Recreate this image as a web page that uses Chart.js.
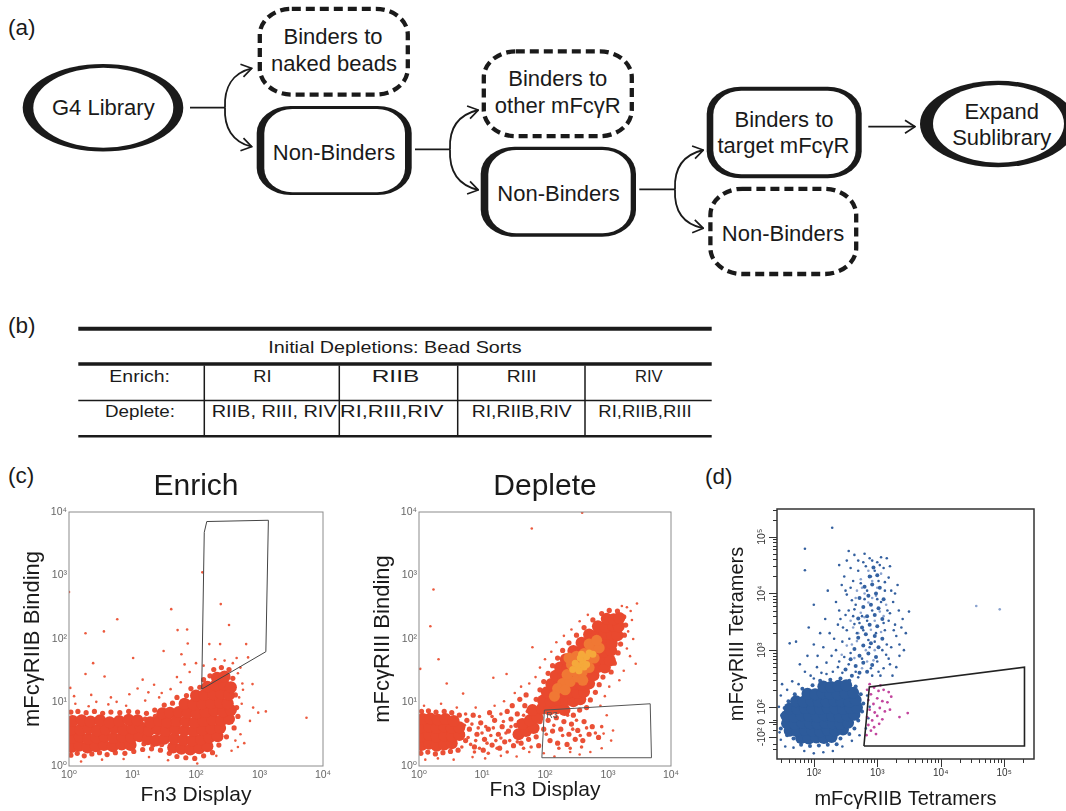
<!DOCTYPE html>
<html><head><meta charset="utf-8">
<script src="https://cdn.jsdelivr.net/npm/chart.js@4.4.1/dist/chart.umd.min.js"></script>
<style>
html,body{margin:0;padding:0;background:#fff;}
body{width:1066px;height:811px;position:relative;overflow:hidden;font-family:"Liberation Sans",Arial,Helvetica,sans-serif;color:#1a1a1a;}
#art{position:absolute;left:0;top:0;}
.cv{position:absolute;}
</style></head><body>
<svg id="art" width="1066" height="811" font-family="'Liberation Sans', Arial, Helvetica, sans-serif">
<defs>
<marker id="ah" viewBox="0 0 12 16" refX="11" refY="8" markerWidth="12" markerHeight="16" markerUnits="userSpaceOnUse" orient="auto">
<path d="M1,1.5 L11,8 L1,14.5" fill="none" stroke="#1a1a1a" stroke-width="1.7"/></marker>
</defs>
<g fill="#1a1a1a" font-size="22.5">
<text x="8" y="34.5">(a)</text><text x="8" y="333">(b)</text><text x="8" y="483">(c)</text><text x="705" y="484">(d)</text>
</g>
<!-- flow chart -->
<ellipse cx="103" cy="107.8" rx="80.3" ry="43.8" fill="#1a1a1a"/>
<ellipse cx="103.3" cy="107.7" rx="70" ry="40" fill="#fff"/>
<ellipse cx="998" cy="124" rx="78" ry="43.3" fill="#1a1a1a"/>
<ellipse cx="998.5" cy="123.8" rx="65.5" ry="38.9" fill="#fff"/>
<rect x="256.7" y="106" width="155" height="89" rx="34" ry="27" fill="#1a1a1a"/>
<rect x="264.3" y="109" width="140.7" height="83.3" rx="28" ry="24" fill="#fff"/>
<rect x="480.7" y="146.7" width="155.3" height="90" rx="34" ry="27" fill="#1a1a1a"/>
<rect x="488.3" y="150" width="142.4" height="83.3" rx="28" ry="24" fill="#fff"/>
<rect x="706.7" y="86.7" width="155" height="91.6" rx="34" ry="27" fill="#1a1a1a"/>
<rect x="713.3" y="90.7" width="142.4" height="83.6" rx="28" ry="24" fill="#fff"/>
<g fill="none" stroke="#1a1a1a" stroke-width="4.3" stroke-dasharray="9 5">
<rect x="259.8" y="8.8" width="148" height="85.8" rx="32" ry="26"/>
<rect x="483.8" y="51.4" width="148" height="84.8" rx="32" ry="26"/>
<rect x="710.4" y="188.8" width="145.8" height="85.2" rx="32" ry="26"/>
</g>
<g fill="none" stroke="#1a1a1a" stroke-width="1.8">
<path d="M190,107.7 H225"/>
<path d="M225,107.7 C224,88 232,73 251.7,68.3" marker-end="url(#ah)"/>
<path d="M225,107.7 C224,127 232,142 251.7,146.7" marker-end="url(#ah)"/>
<path d="M415,149.3 H450"/>
<path d="M450,149.3 C449,129 457,115 478.3,110" marker-end="url(#ah)"/>
<path d="M450,149.3 C449,170 457,185 478.3,190" marker-end="url(#ah)"/>
<path d="M639.3,189.3 H675"/>
<path d="M675,189.3 C674,169 682,155 703.3,150" marker-end="url(#ah)"/>
<path d="M675,189.3 C674,209 682,224 703.3,228.3" marker-end="url(#ah)"/>
<path d="M868.3,126.7 H915" marker-end="url(#ah)"/>
</g>
<g fill="#1a1a1a" font-size="22" text-anchor="middle">
<text x="103.3" y="115">G4 Library</text>
<text x="333" y="44.2">Binders to</text>
<text x="334" y="70.7">naked beads</text>
<text x="334" y="160">Non-Binders</text>
<text x="557.8" y="86">Binders to</text>
<text x="557.8" y="112.7">other mFcγR</text>
<text x="558.5" y="201.3">Non-Binders</text>
<text x="784" y="127">Binders to</text>
<text x="783.5" y="152.7">target mFcγR</text>
<text x="783" y="241.3">Non-Binders</text>
<text x="1001.7" y="118.7">Expand</text>
<text x="1001.7" y="145.4">Sublibrary</text>
</g>
<!-- table -->
<g stroke="#1a1a1a" fill="none">
<path d="M78.3,328.7 H711.7" stroke-width="4"/>
<path d="M78.3,364 H711.7" stroke-width="3.5"/>
<path d="M78.3,400.5 H711.7" stroke-width="1.5"/>
<path d="M78.3,436.3 H711.7" stroke-width="2.6"/>
<path d="M204.3,365.5 V435.5 M339.3,365.5 V435.5 M457.7,365.5 V435.5 M585,365.5 V435.5" stroke-width="1.5"/>
</g>
<g fill="#1a1a1a" font-size="16.4" text-anchor="middle">
<text x="395" y="353.4" textLength="253.4" lengthAdjust="spacingAndGlyphs">Initial Depletions: Bead Sorts</text>
<text x="139.7" y="381.7" textLength="60.7" lengthAdjust="spacingAndGlyphs">Enrich:</text>
<text x="262.5" y="381.7" textLength="18.3" lengthAdjust="spacingAndGlyphs">RI</text>
<text x="395.5" y="381.7" textLength="47.6" lengthAdjust="spacingAndGlyphs">RIIB</text>
<text x="521.7" y="381.7" textLength="30" lengthAdjust="spacingAndGlyphs">RIII</text>
<text x="648.8" y="381.7" textLength="27.7" lengthAdjust="spacingAndGlyphs">RIV</text>
<text x="140" y="416.7" textLength="70" lengthAdjust="spacingAndGlyphs">Deplete:</text>
<text x="274.2" y="416.7" textLength="125" lengthAdjust="spacingAndGlyphs">RIIB, RIII, RIV</text>
<text x="391.7" y="416.7" textLength="103.3" lengthAdjust="spacingAndGlyphs">RI,RIII,RIV</text>
<text x="521.7" y="416.7" textLength="100" lengthAdjust="spacingAndGlyphs">RI,RIIB,RIV</text>
<text x="645" y="416.7" textLength="93.4" lengthAdjust="spacingAndGlyphs">RI,RIIB,RIII</text>
</g>
</svg>
<div class="cv" style="left:0;top:464px"><canvas id="c1" width="345" height="347"></canvas></div>
<div class="cv" style="left:350px;top:464px"><canvas id="c2" width="345" height="347"></canvas></div>
<div class="cv" style="left:700px;top:480px"><canvas id="c3" width="366" height="331"></canvas></div>
<script>
// ---------- data (log10 display units) ----------
const cTickValues = [0, 1, 2, 3, 4];
const cTickLabels = ['10⁰', '10¹', '10²', '10³', '10⁴'];

const enrichGate = [[2.09,1.21],[2.13,3.68],[2.17,3.85],[3.14,3.87],[3.10,1.80],[2.09,1.21]];
const enrichDense = [
[0.04,0.30],[0.16,0.32],[0.29,0.29],[0.42,0.31],[0.55,0.33],[0.69,0.31],[0.83,0.34],[0.97,0.33],
[0.05,0.44],[0.17,0.46],[0.30,0.43],[0.43,0.45],[0.56,0.47],[0.70,0.44],[0.84,0.46],[0.98,0.45],[1.11,0.47],
[0.04,0.58],[0.18,0.57],[0.31,0.59],[0.44,0.56],[0.58,0.58],[0.72,0.60],[0.86,0.57],[1.00,0.59],[1.13,0.61],
[0.06,0.71],[0.20,0.72],[0.34,0.70],[0.49,0.72],[0.64,0.69],[0.79,0.71],[0.94,0.73],[1.08,0.72],
[1.24,0.42],[1.37,0.40],[1.50,0.43],[1.26,0.56],[1.40,0.58],[1.53,0.55],[1.28,0.69],[1.42,0.71],[1.55,0.69],[1.47,0.83],[1.59,0.84],
[1.64,0.29],[1.77,0.27],[1.91,0.26],[2.05,0.28],[2.18,0.31],
[1.66,0.43],[1.80,0.41],[1.94,0.40],[2.08,0.42],[2.21,0.45],[2.34,0.47],
[1.68,0.57],[1.82,0.56],[1.96,0.55],[2.10,0.57],[2.24,0.59],[2.38,0.60],
[1.70,0.71],[1.84,0.70],[1.98,0.69],[2.12,0.71],[2.26,0.73],[2.40,0.72],[2.52,0.74],
[1.73,0.85],[1.87,0.84],[2.01,0.83],[2.15,0.85],[2.29,0.87],[2.43,0.86],[2.55,0.88],
[1.82,0.98],[1.96,0.97],[2.10,0.98],[2.24,0.99],[2.38,1.00],[2.50,0.99],
[2.00,1.11],[2.13,1.12],[2.27,1.13],[2.40,1.14],[2.52,1.12],
[2.18,1.25],[2.31,1.27],[2.44,1.28],[2.55,1.24],
[2.33,1.39],[2.45,1.41]];
const enrichMid = [
[0.03,0.17],[0.13,0.20],[0.24,0.16],[0.36,0.19],[0.48,0.21],[0.60,0.18],[0.73,0.21],[0.88,0.20],[1.02,0.23],[1.16,0.26],[1.30,0.27],[1.44,0.25],[1.58,0.20],[1.70,0.15],[1.84,0.13],[1.98,0.12],[2.12,0.16],[2.26,0.21],[2.36,0.33],[2.48,0.46],[2.60,0.60],
[0.03,0.85],[0.14,0.86],[0.27,0.84],[0.40,0.86],[0.53,0.83],[0.66,0.85],[0.80,0.84],[0.94,0.86],[1.08,0.85],[1.22,0.83],[1.35,0.88],[1.50,0.96],[1.63,0.99],[1.70,1.08],[1.85,1.11],[1.92,1.22],[2.06,1.24],[2.12,1.36],[2.22,1.42],[2.28,1.52],[2.40,1.55],[2.52,1.52],[2.58,1.38],[2.62,1.12],[2.64,0.92],[2.66,0.78],
[1.18,0.35],[1.32,0.33],[1.46,0.34],[1.60,0.60],[1.20,0.74],[1.36,0.78]];
const enrichSparse = [
[0.00,2.74],[0.76,2.31],[0.26,2.09],[0.55,2.12],[1.61,2.47],[2.10,3.05],[2.39,2.55],[2.52,2.22],[1.71,2.14],[1.86,2.15],[1.01,1.70],[0.38,1.62],[0.26,1.45],[0.56,1.41],[1.49,1.81],[1.77,1.76],[2.21,1.92],[2.38,1.92],[2.79,1.92],[1.87,1.93],[3.74,0.76],[2.98,0.84],[3.10,0.86],[2.90,0.92],[2.85,0.71],[2.89,1.29],[2.73,1.30],[2.82,1.71],[1.16,1.36],[1.34,1.28],[1.08,1.22],[0.75,1.01],[0.43,1.01],[0.02,1.23],
[0.10,0.98],[0.31,0.94],[0.62,0.97],[0.90,0.95],[1.20,1.03],[1.42,1.08],[0.19,0.07],[0.52,0.10],[0.86,0.11],[1.26,0.14],[1.56,0.09],[2.02,0.04],[2.32,0.16],[2.56,0.24],[2.70,0.50],[2.72,0.98],[2.68,1.08],[2.76,0.36],[2.64,1.70],[2.70,1.55],[1.60,1.21],[1.46,1.15],[1.76,1.32],[1.90,1.48],[2.00,1.62],[2.12,1.58],[2.30,1.68],[2.45,1.66],[2.58,1.62],[2.66,1.46],[2.74,1.20],[2.62,0.40],[2.66,0.30],[0.08,1.10],[0.35,1.12],[0.66,1.08],[0.95,1.13],[1.25,1.16],[1.70,1.40],[1.82,1.60]];

const depleteGate = [[1.95,0.13],[1.99,0.88],[3.67,0.98],[3.69,0.13],[1.95,0.13]];
const depleteGateLabel = 'R3';
const depleteHot = [[2.52,1.58],[2.60,1.64],[2.56,1.70],[2.66,1.72],[2.48,1.62],[2.62,1.56],[2.70,1.78],[2.44,1.52],[2.58,1.76],[2.54,1.50],[2.76,1.76],[2.66,1.60]];
const depleteWarm = [[2.28,1.30],[2.40,1.33],[2.52,1.40],[2.35,1.44],[2.47,1.50],[2.59,1.48],[2.70,1.55],[2.42,1.60],[2.54,1.62],[2.66,1.66],[2.78,1.70],[2.50,1.73],[2.62,1.77],[2.74,1.82],[2.86,1.86],[2.70,1.92],[2.20,1.22],[2.32,1.20],[2.15,1.10],[2.82,1.98],[2.60,1.35],[2.38,1.70]];
const depleteDense = [
[0.04,0.33],[0.16,0.35],[0.28,0.32],[0.40,0.34],[0.52,0.36],
[0.04,0.47],[0.16,0.49],[0.28,0.46],[0.40,0.48],[0.52,0.47],[0.64,0.49],
[0.04,0.61],[0.16,0.62],[0.28,0.60],[0.40,0.62],[0.52,0.60],[0.64,0.61],
[0.06,0.74],[0.18,0.75],[0.30,0.73],[0.42,0.74],[0.55,0.71],
[1.58,0.50],[1.70,0.55],[1.82,0.60],[1.64,0.66],[1.76,0.72],[1.88,0.76],[1.80,0.88],
[1.95,0.90],[2.07,0.89],[2.19,0.91],[2.31,0.88],
[1.97,1.03],[2.09,1.02],[2.21,1.04],[2.33,1.03],[2.45,1.02],[2.56,1.05],
[2.03,1.16],[2.15,1.15],[2.27,1.17],[2.39,1.16],[2.51,1.15],[2.62,1.17],
[2.10,1.29],[2.22,1.28],[2.34,1.30],[2.46,1.29],[2.58,1.28],[2.70,1.30],
[2.17,1.42],[2.29,1.41],[2.41,1.43],[2.53,1.42],[2.65,1.41],[2.77,1.43],
[2.24,1.55],[2.36,1.54],[2.48,1.56],[2.60,1.55],[2.72,1.54],[2.84,1.56],[2.95,1.55],
[2.33,1.68],[2.45,1.67],[2.57,1.69],[2.69,1.68],[2.81,1.67],[2.93,1.69],[3.03,1.66],
[2.45,1.81],[2.57,1.80],[2.69,1.82],[2.81,1.81],[2.93,1.80],[3.05,1.82],
[2.58,1.94],[2.70,1.93],[2.82,1.95],[2.94,1.94],[3.06,1.93],
[2.70,2.07],[2.82,2.06],[2.94,2.08],[3.06,2.07],[3.15,2.06],
[2.84,2.20],[2.96,2.19],[3.08,2.21],[3.17,2.20],
[2.98,2.32],[3.09,2.31],[3.18,2.33]];
const depleteMid = [
[0.03,0.20],[0.14,0.22],[0.26,0.19],[0.38,0.21],[0.50,0.23],[0.62,0.25],[0.04,0.86],[0.15,0.87],[0.27,0.85],[0.40,0.86],[0.52,0.84],[0.64,0.80],
[0.74,0.40],[0.80,0.58],[0.88,0.30],[0.92,0.50],[0.98,0.68],[1.04,0.42],[1.10,0.58],[1.16,0.33],[1.20,0.72],[1.26,0.50],[1.32,0.62],[1.36,0.38],[1.42,0.55],[1.46,0.74],[1.50,0.32],[1.54,0.64],[0.76,0.72],[0.86,0.80],[1.02,0.25],[1.12,0.84],[1.28,0.28],[1.40,0.86],[1.48,0.95],[1.56,0.82],[1.62,0.36],[1.68,0.95],[1.74,0.42],[1.86,0.46],[1.92,0.70],[1.90,0.32],[1.98,0.58],[1.60,1.05],[1.70,1.12],
[1.86,1.05],[1.92,1.20],[1.98,1.33],[2.05,1.46],[2.12,1.58],[2.20,1.70],[2.28,1.82],[2.38,1.94],[2.50,2.06],[2.62,2.18],[2.76,2.30],[2.90,2.40],[3.02,2.45],[3.15,2.44],[3.25,2.35],[3.28,2.22],[3.26,2.06],[3.20,1.92],[3.16,1.78],[3.10,1.62],[3.05,1.48],[2.92,1.40],[2.86,1.28],[2.80,1.16],[2.72,1.04],[2.66,0.92],[2.55,0.88],[2.45,0.80],
[2.05,0.72],[2.18,0.76],[2.30,0.70],[2.42,0.66],[2.12,0.55],[2.25,0.58],[2.38,0.50],[2.52,0.56],[2.62,0.70],[2.70,0.50],[2.08,0.40],[2.20,0.36],[2.35,0.34],[2.48,0.42],[2.60,0.40],[2.75,0.62],[2.85,0.45]];
const depleteFill = [
[0.68,0.30],[0.70,0.52],[0.72,0.64],[0.78,0.45],[0.82,0.34],[0.84,0.66],[0.90,0.40],[0.94,0.60],[0.96,0.28],[1.00,0.52],[1.06,0.62],[1.08,0.36],[1.14,0.48],[1.18,0.60],[1.22,0.40],[1.24,0.28],[1.30,0.44],[1.34,0.70],[1.38,0.52],[1.44,0.40],[1.46,0.62],[1.52,0.48],[1.56,0.38],[1.58,0.70],[1.64,0.52],[1.66,0.80],[0.74,0.82],[0.96,0.78],[1.16,0.78],[1.30,0.82],[0.88,0.22],[1.10,0.20],[1.40,0.22],[1.66,0.28],[1.78,0.30],[1.84,0.92],[1.72,0.86],
[2.14,0.64],[2.28,0.48],[2.44,0.58],[2.56,0.48],[2.66,0.60],[2.22,0.28],[2.40,0.28],[2.58,0.30],[2.80,0.52],[2.90,0.62],[2.36,0.80],[2.50,0.72],[2.02,0.50]];
const depleteSparse = [
[1.79,3.74],[2.59,3.99],[0.23,2.78],[0.18,2.20],[0.31,1.68],[1.80,1.87],[0.44,1.30],[0.02,1.53],[3.46,2.56],[3.44,1.61],[3.35,1.73],[1.18,1.39],[1.39,1.45],[0.70,1.14],[2.93,0.51],[3.08,0.56],[3.36,2.44],[3.30,2.50],[3.22,2.52],[3.38,2.30],[3.32,2.12],[3.25,1.50],[3.18,1.35],[3.02,1.25],[2.95,1.10],[2.88,0.95],[2.98,0.80],[3.05,0.40],[2.90,0.28],[2.72,0.22],[2.55,0.18],[2.40,0.22],[2.15,0.15],[1.98,0.20],[1.75,0.22],[1.55,0.15],[1.30,0.16],[1.05,0.12],[0.85,0.14],[0.55,0.10],[0.30,0.12],[0.10,0.10],[0.08,0.95],[0.35,0.98],[0.60,0.92],[0.90,0.92],[1.20,0.95],[1.35,1.02],[1.52,1.15],[1.62,1.25],[1.75,1.30],[1.85,1.40],[1.92,1.55],[2.00,1.68],[2.10,1.80],[2.18,1.95],[2.30,2.05],[2.42,2.15],[2.55,2.28],[2.68,2.38],[3.30,1.85],[3.40,2.00],[2.10,0.90],[2.30,0.95]];

// (d) biexponential display units: 2,3,4,5 = 10^2..10^5
const dXTickVals = [2, 3, 4, 5];
const dXTickLabels = ['10²', '10³', '10⁴', '10⁵'];
const dYTickVals = [1.47, 1.735, 2, 3, 4, 5];
const dYTickLabels = ['-10²', '0', '10²', '10³', '10⁴', '10⁵'];
const dGate = [[2.79,1.31],[2.875,2.35],[5.32,2.70],[5.32,1.31],[2.79,1.31]];
const dCore = [
[1.80,1.45],[1.92,1.44],[2.04,1.46],[2.16,1.45],[2.28,1.47],
[1.62,1.58],[1.74,1.57],[1.86,1.59],[1.98,1.58],[2.10,1.57],[2.22,1.59],[2.34,1.58],[2.46,1.60],
[1.58,1.71],[1.70,1.70],[1.82,1.72],[1.94,1.71],[2.06,1.70],[2.18,1.72],[2.30,1.71],[2.42,1.70],[2.54,1.72],
[1.57,1.84],[1.69,1.83],[1.81,1.85],[1.93,1.84],[2.05,1.83],[2.17,1.85],[2.29,1.84],[2.41,1.83],[2.53,1.85],[2.64,1.86],
[1.62,1.97],[1.74,1.96],[1.86,1.98],[1.98,1.97],[2.10,1.96],[2.22,1.98],[2.34,1.97],[2.46,1.96],[2.58,1.98],[2.68,1.99],
[1.72,2.10],[1.84,2.09],[1.96,2.11],[2.08,2.10],[2.20,2.09],[2.32,2.11],[2.44,2.10],[2.56,2.09],[2.66,2.12],
[1.90,2.23],[2.02,2.22],[2.14,2.24],[2.26,2.23],[2.38,2.22],[2.50,2.24],[2.62,2.25],
[2.15,2.36],[2.27,2.35],[2.39,2.37],[2.51,2.38]];
const dMid = [
[1.52,1.70],[1.50,1.85],[1.54,1.98],[1.60,2.10],[1.70,2.22],[1.82,2.32],[1.98,2.38],[2.10,2.46],[2.26,2.48],[2.42,2.50],[2.56,2.46],[2.66,2.36],[2.74,2.22],[2.78,2.06],[2.76,1.92],[2.70,1.76],[2.64,1.62],[2.56,1.52],[2.42,1.44],[2.36,1.34],[2.22,1.33],[2.08,1.32],[1.94,1.31],[1.80,1.33],[1.68,1.44],[1.58,1.50],[1.48,1.62],
[2.60,2.55],[2.72,2.60],[2.84,2.62],[2.50,2.66],[2.66,2.72],[2.78,2.78],[2.92,2.74],[2.58,2.84],[2.72,2.90],[2.86,2.94],[2.98,2.88],[2.64,3.02],[2.78,3.08],[2.90,3.12],[3.02,3.05],[2.70,3.22],[2.82,3.28],[2.96,3.25],[3.08,3.20],[2.76,3.40],[2.88,3.45],[3.00,3.42],[2.70,3.56],[2.84,3.60],[2.96,3.62],[3.08,3.55],[2.78,3.76],[2.90,3.80],[3.02,3.74],[2.72,3.92],[2.86,3.96],[2.98,4.00],[3.10,3.90],[2.80,4.12],[2.92,4.16],[3.04,4.10],[2.88,4.30],[3.00,4.32],[2.94,4.46]];
const dSparse = [
[2.30,2.62],[2.40,2.80],[2.35,3.00],[2.45,3.15],[2.52,3.35],[2.42,3.55],[2.55,3.70],[2.60,3.88],[2.50,4.05],[2.62,4.22],[2.70,4.40],[2.78,4.55],[2.88,4.62],[3.00,4.55],[3.10,4.45],[3.18,4.28],[3.22,4.05],[3.25,3.85],[3.20,3.65],[3.28,3.45],[3.30,3.25],[3.22,3.05],[3.18,2.85],[3.10,2.68],[3.05,2.55],[3.35,3.10],[3.40,3.55],[3.32,4.15],[2.20,2.78],[2.15,3.05],[2.25,3.30],[2.12,2.60],[2.05,2.70],[1.95,2.55],[1.86,2.62],[1.78,2.75],[1.90,2.90],[2.00,3.10],[1.62,3.12],[1.72,3.15],[1.86,4.41],[1.86,4.79],[2.29,5.16],[2.40,4.50],[2.55,4.75],[3.15,4.62],[3.35,2.90],[3.45,3.30],[3.50,3.68],[2.35,3.85],[2.48,4.30],[3.12,3.35],[3.15,3.10],[2.58,2.95],[2.90,2.68],[3.00,2.80],[2.70,2.52],[2.45,2.60],
[2.38,2.70],[2.48,2.88],[2.56,3.20],[2.62,3.60],[2.66,3.80],[2.74,4.18],[2.82,4.48],[2.92,4.58],[3.02,4.22],[3.12,4.05],[3.16,3.70],[3.10,3.48],[3.08,3.00],[3.02,2.62],[2.96,3.15],[2.84,3.52],[2.80,3.90],[2.68,3.30],[2.76,2.85],[2.88,3.05],[2.98,3.30],[3.06,3.85],[2.92,3.70],[2.70,4.58],[2.96,4.40],[3.12,4.20],[2.52,3.98],[2.46,3.40],[2.58,4.45],[3.26,3.35],[3.20,2.75],[2.66,2.62],[2.55,2.75],[2.92,2.55],[2.84,4.05],[3.00,3.90],[2.78,3.35],[2.86,3.18],[2.64,3.72],[2.72,3.48],
[2.28,2.90],[2.32,3.20],[2.38,3.45],[2.40,3.70],[2.44,4.15],[2.52,4.58],[2.64,4.68],[2.80,4.70],[3.06,4.64],[3.20,4.48],[3.28,4.00],[3.34,3.70],[3.38,3.40],[3.42,3.00],[3.30,2.70],[3.24,2.55],[2.18,3.55],[2.10,3.30],[2.22,4.05],[2.00,3.80],[1.92,3.40],[2.06,2.90],[2.50,3.62],[2.58,4.10],[2.64,3.46],[3.14,2.92],[3.18,3.52],[3.04,4.50],[2.90,4.30],[2.76,3.60],
[1.48,1.42],[1.55,1.30],[1.68,1.28],[1.85,1.22],[2.00,1.18],[2.15,1.20],[2.30,1.22],[2.45,1.30],[2.60,1.40],[2.72,1.50],[2.82,1.62],[2.86,1.80],[2.88,2.00],[2.84,2.20],[1.45,2.00],[1.48,2.20],[1.58,2.30],[1.66,2.45],[1.76,2.40],[2.00,2.50],[2.20,2.58],[1.46,1.55],[1.50,2.40]];
const dLight = [[2.62,3.40],[2.74,3.66],[2.86,3.84],[2.96,3.52],[3.06,3.32],[2.68,3.16],[2.82,3.00],[2.94,2.82],[2.76,2.68],[2.64,2.86],[2.90,3.36],[3.04,3.68],[2.80,4.00],[2.92,4.22],[3.06,4.35],[2.68,4.05],[2.58,3.52],[2.52,3.08],[2.44,2.92],[2.98,3.96],[3.14,3.80],[2.86,4.40],[2.74,4.25],[4.56,3.78],[4.93,3.72],
[2.70,3.30],[2.80,3.58],[2.92,3.92],[3.00,4.10],[2.84,2.80],[2.60,3.10],[2.76,4.10],[2.96,3.00],[3.10,3.60],[2.66,3.92]];
const dGated = [[2.84,2.30],[2.90,2.22],[2.95,2.34],[3.02,2.28],[3.10,2.30],[3.18,2.26],[2.86,2.12],[2.94,2.05],[3.00,2.15],[3.08,2.10],[3.16,2.08],[3.22,2.18],[2.88,1.95],[2.96,1.90],[3.04,1.98],[3.12,1.92],[2.84,1.82],[2.92,1.76],[3.00,1.84],[3.08,1.78],[2.86,1.68],[2.95,1.64],[3.03,1.70],[2.90,1.58],[2.98,1.52],[2.83,1.50],[3.20,1.95],[3.35,1.82],[3.48,1.89],[2.88,2.40],[3.05,2.38]];

// ---------- chart helpers ----------
Chart.defaults.font.family = "'Liberation Sans', Arial, Helvetica, 'DejaVu Sans', sans-serif";
Chart.defaults.color = '#1a1a1a';
Chart.defaults.animation = false;

function dots(data, color, r){ return {type:'scatter', data, backgroundColor:color, borderWidth:0, pointRadius:r, pointHoverRadius:r, clip:0}; }
function gate(data, color, w){ return {type:'line', data, borderColor:color, borderWidth:w, pointRadius:0, fill:false, tension:0, clip:0}; }

const framePlugin = {id:'frame', afterDatasetsDraw(chart, args, opts){
  const a = chart.chartArea, c = chart.ctx;
  c.save(); c.strokeStyle = opts.color; c.lineWidth = opts.width;
  c.strokeRect(a.left, a.top, a.right - a.left, a.bottom - a.top);
  c.restore();
}};
const gateLabelPlugin = {id:'gateLabel', afterDatasetsDraw(chart, args, opts){
  if(!opts.text) return;
  const {ctx, scales:{x, y}} = chart;
  ctx.save(); ctx.fillStyle = '#555'; ctx.font = "9px 'Liberation Sans', Arial, sans-serif";
  ctx.textBaseline = 'top';
  ctx.fillText(opts.text, x.getPixelForValue(opts.at[0]) + 2, y.getPixelForValue(opts.at[1]) + 1);
  ctx.restore();
}};

function cScales(yTitle, xPadBottom){
  return {
    x:{type:'linear', min:0, max:4,
       afterBuildTicks:s=>{ s.ticks = cTickValues.map(v=>({value:v})); },
       ticks:{callback:(v,i)=>cTickLabels[i], color:'#666', font:{size:10.5}, padding:3, maxRotation:0, autoSkip:false},
       grid:{display:false, drawTicks:false}, border:{display:false},
       title:{display:true, text:'Fn3 Display', font:{size:21}, color:'#1a1a1a', padding:{top:0, bottom:xPadBottom}},
       afterFit:s=>{ s.height = 45; }},
    y:{type:'linear', min:0, max:4,
       afterBuildTicks:s=>{ s.ticks = cTickValues.map(v=>({value:v})); },
       ticks:{callback:(v,i)=>cTickLabels[i], color:'#666', font:{size:10.5}, padding:2, autoSkip:false},
       grid:{display:false, drawTicks:false}, border:{display:false},
       title:{display:true, text:yTitle, font:{size:22}, color:'#1a1a1a', padding:{top:20, bottom:0}},
       afterFit:s=>{ s.width = 69; }}
  };
}
function cPlugins(title, label){
  return {legend:{display:false}, tooltip:{enabled:false},
    title:{display:true, text:title, fullSize:false, font:{size:30, weight:'normal'}, color:'#1a1a1a', padding:{top:5, bottom:7}},
    frame:{color:'#8c8c8c', width:1}, gateLabel:label};
}

new Chart(document.getElementById('c1'), {
  type:'scatter',
  data:{datasets:[
    gate(enrichGate, '#444', 1),
    dots(enrichDense, '#e8472f', 6),
    dots(enrichMid, '#ea4f35', 2.6),
    dots(enrichSparse, '#ec5a3e', 1.3)
  ]},
  options:{responsive:false, animation:false, events:[],
    layout:{padding:{left:0, right:22, top:0, bottom:0}},
    plugins:cPlugins('Enrich', {text:''}),
    scales:cScales('mFcγRIIB Binding', 3.4)},
  plugins:[framePlugin, gateLabelPlugin]
});

new Chart(document.getElementById('c2'), {
  type:'scatter',
  data:{datasets:[
    gate(depleteGate, '#555', 1),
    dots(depleteHot, '#f5a93a', 3.5),
    dots(depleteWarm, '#f07834', 5.5),
    dots(depleteDense, '#e9492e', 6),
    dots(depleteMid, '#ea5036', 2.6),
    dots(depleteFill, '#eb553a', 1.8),
    dots(depleteSparse, '#ec5a3e', 1.3)
  ]},
  options:{responsive:false, animation:false, events:[],
    layout:{padding:{left:0, right:24, top:0, bottom:0}},
    plugins:cPlugins('Deplete', {text:depleteGateLabel, at:depleteGate[1]}),
    scales:cScales('mFcγRIII Binding', 8.4)},
  plugins:[framePlugin, gateLabelPlugin]
});

const dTicksPlugin = {id:'dTicks', afterDraw(chart){
  const {ctx, chartArea:a, scales:{x, y}} = chart;
  const xMinor = [], yMinor = [];
  for(let d=1; d<=5; d++) for(let k=2; k<=9; k++){ const v = d + Math.log10(k); if(v > x.min && v < x.max) xMinor.push(v); }
  for(let d=2; d<=5; d++) for(let k=2; k<=9; k++){ const v = d + Math.log10(k); if(v > y.min && v < y.max) yMinor.push(v); }
  yMinor.push(1.70, 1.77, 1.60, 1.35, 1.25);
  ctx.save(); ctx.strokeStyle = '#333'; ctx.lineWidth = 1;
  ctx.beginPath();
  xMinor.forEach(v=>{ const p = Math.round(x.getPixelForValue(v)) + 0.5; ctx.moveTo(p, a.bottom); ctx.lineTo(p, a.bottom + 4); });
  dXTickVals.forEach(v=>{ const p = Math.round(x.getPixelForValue(v)) + 0.5; ctx.moveTo(p, a.bottom); ctx.lineTo(p, a.bottom + 8); });
  yMinor.forEach(v=>{ const p = Math.round(y.getPixelForValue(v)) + 0.5; ctx.moveTo(a.left, p); ctx.lineTo(a.left - 4, p); });
  dYTickVals.forEach(v=>{ const p = Math.round(y.getPixelForValue(v)) + 0.5; ctx.moveTo(a.left, p); ctx.lineTo(a.left - 8, p); });
  ctx.stroke();
  ctx.fillStyle = '#333'; ctx.font = "10.5px 'Liberation Sans', Arial, 'DejaVu Sans', sans-serif";
  ctx.textAlign = 'center'; ctx.textBaseline = 'bottom';
  dYTickVals.forEach((v,i)=>{
    ctx.save(); ctx.translate(a.left - 10, y.getPixelForValue(v)); ctx.rotate(-Math.PI/2);
    ctx.fillText(dYTickLabels[i], 0, 0); ctx.restore();
  });
  ctx.restore();
}};

new Chart(document.getElementById('c3'), {
  type:'scatter',
  data:{datasets:[
    gate(dGate, '#222', 1.6),
    dots(dGated, '#c2459e', 1.4),
    dots(dCore, '#2d5b9b', 6),
    dots(dMid, '#3462a2', 2),
    dots(dSparse, '#34609f', 1.3),
    dots(dLight, '#8aa3cf', 1.3)
  ]},
  options:{responsive:false, animation:false, events:[],
    layout:{padding:{left:0, right:32, top:29, bottom:0}},
    plugins:{legend:{display:false}, tooltip:{enabled:false}, title:{display:false}, frame:{color:'#333', width:1.5}},
    scales:{
      x:{type:'linear', min:1.42, max:5.47,
         afterBuildTicks:s=>{ s.ticks = dXTickVals.map(v=>({value:v})); },
         ticks:{callback:(v,i)=>dXTickLabels[i], color:'#333', font:{size:10}, padding:8, maxRotation:0, autoSkip:false},
         grid:{display:false, drawTicks:false}, border:{display:false},
         title:{display:true, text:'mFcγRIIB Tetramers', font:{size:20}, color:'#1a1a1a', padding:{top:0, bottom:0}},
         afterFit:s=>{ s.height = 52; }},
      y:{type:'linear', min:1.08, max:5.49,
         afterBuildTicks:s=>{ s.ticks = dYTickVals.map(v=>({value:v})); },
         ticks:{display:false},
         grid:{display:false, drawTicks:false}, border:{display:false},
         title:{display:true, text:'mFcγRIII Tetramers', font:{size:20}, color:'#1a1a1a', padding:{top:25, bottom:0}},
         afterFit:s=>{ s.width = 77; }}
    }},
  plugins:[framePlugin, dTicksPlugin]
});
</script>
</body></html>
